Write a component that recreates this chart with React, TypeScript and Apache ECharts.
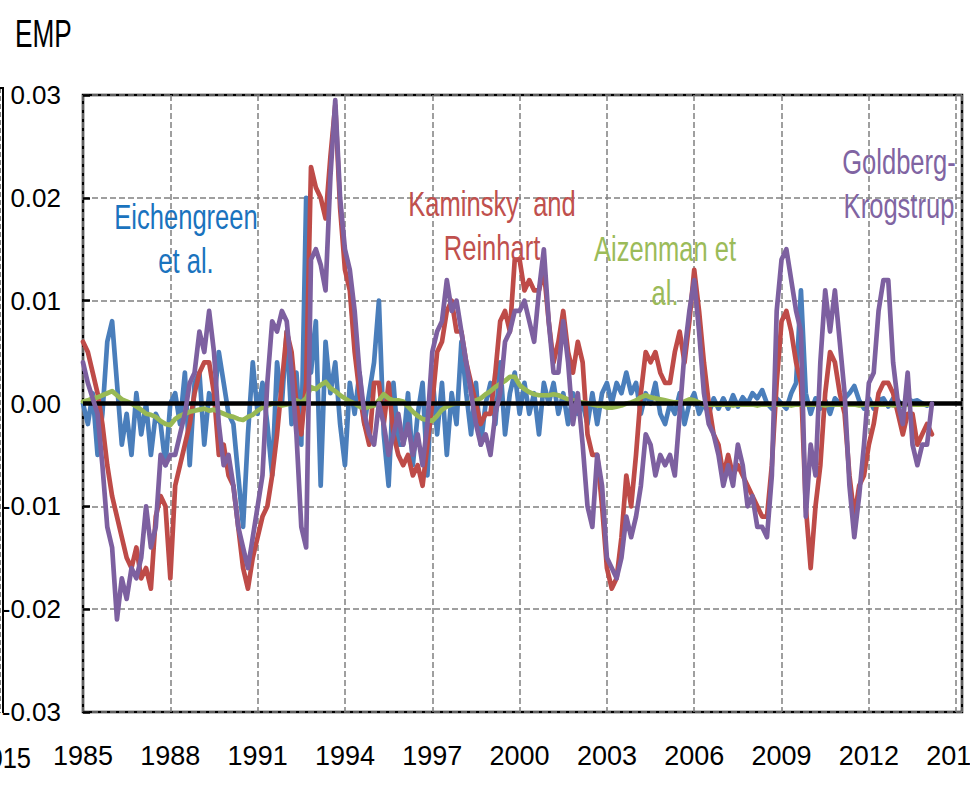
import React, { useEffect, useRef } from "react";
import * as echarts from "echarts";

// Observations are two-monthly, starting January 1985 (x = years since 1985)
const FIRST_YEAR = 1985;
const PERIODS_PER_YEAR = 6;
const yearTicks = [1985, 1988, 1991, 1994, 1997, 2000, 2003, 2006, 2009, 2012, 2015];

// Values in thousandths (0.001) of EMP
const eichengreenThousandths = [
  0, -2, 1, -5, -1, 6,
  8, 2, -4, -1, -5, 1,
  -3, 0, -5, -1, -2, -6,
  0, 1, -2, 3, -6, 2,
  3, -4, 1, 0, 5, 2,
  -1, -2, -7, -12, -3, 4,
  -1, 2, -2, -7, 4, 0,
  7, -2, 3, -4, 20, 3,
  8, -8, 6, 1, 4, -2,
  -6, 2, -1, 3, -2, 1,
  4, 10, -3, -8, 2, -4,
  -4, 1, -6, -1, 2, -7,
  3, -3, 2, -5, 1, -2,
  6, 1, -3, 2, -4, 0,
  2, -2, 4, -3, 1, 3,
  -1, 2, -1, 1, -3, 2,
  0, 2, -1, 1, -2, 1,
  -1, 0, -2, 1, -2, 1,
  2, 0, 2, 1, 3, 1,
  2, -1, 1, 0, 2, -1,
  -2, 0, -1, 1, -2, 0,
  1, -1, 0, -1, 0.5, -0.5,
  0.5, -0.5, 0.8, -0.3, 0.6, 0,
  1, 0.5, 1.3, 0, -0.5, 0.5,
  0, -0.5, 1, 2, 11, 1,
  -1, 0.5, -0.5, 0.3, -1, 0.5,
  0, 0.5, 1, 1.7, 0.3, -0.5,
  0.5, -0.5, 0.3, 0.5, -0.3, 0.5,
  0.3, -0.3, 0.5, 0.2, 0.3, 0,
  -0.2, 0,
];

const kaminskyReinhartThousandths = [
  6, 5, 3, 1, -2, -6,
  -9, -11, -13, -15, -16, -14,
  -17, -16, -18, -11, -9, -10,
  -17, -8, -6, -4, -2, 1,
  3, 4, 4, 1, -5, -4,
  -7, -8, -12, -16, -18, -15,
  -13, -11, -10, -7, -3, 2,
  7, 5, 0, -3, 2, 23,
  21, 20, 18, 24, 29, 19,
  13, 11, 5, 1, -2, -4,
  2, 2, -2, 2, -3, -5,
  -6, -5, -7, -6, -8, -4,
  0, 5, 6, 9, 10, 7,
  7, 4, 2, 0, -2, -1,
  -1, 3, 8, 9, 7, 14,
  14, 11, 12, 11, 11, 13,
  8, 4, 6, 9, 5, 3,
  6, 4, -3, -5, -5, -10,
  -16, -18, -17, -13, -7, -10,
  -5, 1, 5, 4, 5, 3,
  2, 2, 5, 7, 4, 8,
  13, 9, 4, 0, -3, -4,
  -7, -5, -7, -6, -7, -8,
  -9, -10, -11, -11, -6, 2,
  8, 9, 7, 4, 2, -10,
  -16, -10, -6, 1, 5, 4,
  1, -1, -7, -11, -8, -7,
  -4, -2, 1, 2, 2, 1,
  -1, -3, -1, -1, -4, -3,
  -2, -3,
];

const aizenmanThousandths = [
  0.2, 0.3, 0.5, 0.6, 0.8, 1.0,
  1.2, 0.8, 0.4, 0.2, 0.0, -0.3,
  -0.6, -1.0, -1.1, -1.3, -1.7, -2.0,
  -2.1, -1.5, -1.2, -1.0, -0.8, -0.7,
  -0.6, -0.5, -0.7, -0.6, -0.8, -1.0,
  -1.2, -1.3, -1.5, -1.6, -1.3, -1.1,
  -0.7, -0.4, -0.2, 0.0, 0.0, -0.2,
  -0.1, 0.0, 0.3, 0.1, 0.5, 1.6,
  1.4, 1.8, 2.1, 1.5, 1.2, 0.8,
  0.5, 0.2, 0.0, -0.3, -0.5, -0.3,
  -0.2, 0.3, 0.9, 0.5, 0.3, 0.3,
  0.2, -0.3, -0.8, -1.2, -1.5, -1.6,
  -1.7, -1.2, -0.6, -0.3, -0.1, 0.0,
  0.0, 0.0, 0.1, 0.3, 0.5, 0.9,
  1.2, 1.6, 1.9, 2.2, 2.6, 2.6,
  1.8, 1.4, 1.1, 0.9, 0.8, 0.8,
  0.8, 0.9, 0.8, 0.6, 0.4, 0.3,
  0.2, 0.1, 0.0, -0.1, -0.2, -0.2,
  -0.4, -0.4, -0.3, -0.2, 0.0, 0.1,
  0.3, 0.6, 0.8, 0.6, 0.5, 0.4,
  0.3, 0.2, 0.1, 0.1, 0.2, 0.4,
  0.3, 0.1, -0.1, -0.1, -0.1, -0.1,
  -0.1, -0.1, -0.2, -0.1, -0.1, -0.1,
  -0.1, -0.2, -0.1, -0.1, -0.1, -0.1,
  -0.1, -0.1, -0.2, -0.1, -0.1, -0.1,
  -0.1, -0.1, -0.1, -0.2, -0.1, -0.1,
  -0.1, -0.1, -0.1, -0.1, -0.2, -0.1,
  -0.1, -0.1, -0.1, -0.1, -0.1, -0.2,
  -0.1, -0.1, -0.1, -0.1, -0.1, -0.1,
  -0.1, -0.1,
];

const goldbergKrogstrupThousandths = [
  4, 2, 0.5, -1, -6, -12,
  -14, -21, -17, -19, -16, -17,
  -15, -10, -14, -12, -5, -6,
  -5, -5, -3, -1, 2, 3,
  7, 5, 9, 5, -2, -6,
  -5, -8, -12, -14, -16, -13,
  -10, -7, 2, 8, 7, 9,
  8, 3, -3, -12, -14, 14,
  15, 13.5, 11, 22, 29.5, 20,
  15, 13, 9, 3, -1, -3,
  -4, 0, -2, -5, -3, -1,
  -4, -2, -5, -3, -6, -2,
  5, 7, 8, 12, 9, 10,
  7, 4, 1, -2, -4, -3,
  -5, -1, 1, 6, 7, 9,
  9, 10, 8, 6, 11, 15,
  8, 3, 3, 8, 4, -2,
  1, -4, -10, -12, -5, -8,
  -15, -16, -17, -15, -11, -13,
  -11, -8, -3, -4, -7, -5,
  -6, -5, -7, -1, 5, 9,
  12, 7, 1, -2, -3, -5,
  -8, -6, -8, -4, -6, -10,
  -9, -12, -12, -13, -7, 9,
  14, 15, 12, 9, 7, -11,
  -4, -7, 4, 11, 7, 11,
  6, 1, -8, -13, -9, -4,
  2, 3, 9, 12, 12, 4,
  0, -2, 3, -4, -6, -4,
  -4, 0,
];

const seriesNames = ["Eichengreen et al.", "Kaminsky and Reinhart", "Aizenman et al.", "Goldberg-Krogstrup"];
const annotationTexts = ["Eichengreen\net al.", "Kaminsky  and\nReinhart", "Aizenman et\nal.", "Goldberg-\nKrogstrup"];

const FONT = "'Liberation Sans', Arial, sans-serif";

function toPairs(values: number[]) {
  return values.map((v, i) => [i / PERIODS_PER_YEAR, v / 1000]);
}

export default function App() {
  const ref = useRef<HTMLDivElement>(null);

  useEffect(() => {
    if (!ref.current) return;
    const chart = echarts.init(ref.current, undefined, { renderer: "svg" });

    const colors = ["#4A7EBB", "#BE4B48", "#98B954", "#7D60A0"];
    const dataSets = [
      eichengreenThousandths,
      kaminskyReinhartThousandths,
      aizenmanThousandths,
      goldbergKrogstrupThousandths,
    ];

    const series: any[] = dataSets.map((d, k) => ({
      type: "line",
      name: seriesNames[k],
      data: toPairs(d),
      symbol: "none",
      showSymbol: false,
      smooth: false,
      z: 2 + k,
      lineStyle: { color: colors[k], width: 4.7, join: "round", cap: "round" },
      itemStyle: { color: colors[k] },
      emphasis: { disabled: true },
      markLine:
        k === 0
          ? {
              silent: true,
              symbol: ["none", "none"],
              label: { show: false },
              lineStyle: { color: "#000", width: 4.5, type: "solid" },
              data: [{ yAxis: 0 }],
            }
          : undefined,
    }));

    const annStyle = (k: number, color: string) => ({
      text: annotationTexts[k],
      fill: color,
      fontSize: 36,
      fontFamily: FONT,
      textAlign: "center",
      textVerticalAlign: "top",
      lineHeight: 44,
    });

    chart.setOption({
      animation: false,
      backgroundColor: "#fff",
      grid: {
        left: 83,
        right: 8,
        top: 95,
        bottom: 75,
        outerBoundsMode: "none",
        containLabel: false,
        show: true,
        borderColor: "#000",
        borderWidth: 2.5,
        backgroundColor: "transparent",
      },
      xAxis: {
        type: "value",
        min: 0,
        max: 30.2,
        interval: 3,
        axisLine: { show: false, onZero: false },
        axisTick: { show: false },
        splitLine: {
          show: true,
          lineStyle: { color: "#808080", width: 1.5, type: [6, 3] },
        },
        axisLabel: {
          color: "#000",
          fontSize: 27,
          fontFamily: FONT,
          margin: 30,
          formatter: (v: number) => {
            const yr = FIRST_YEAR + Math.round(v);
            return Math.abs(v - Math.round(v)) < 1e-6 && yearTicks.includes(yr) ? String(yr) : "";
          },
        },
      },
      yAxis: {
        type: "value",
        min: -0.03,
        max: 0.03,
        interval: 0.01,
        axisLine: { show: false },
        axisTick: { show: true, inside: true, length: 7, lineStyle: { color: "#000", width: 2.5 } },
        splitLine: {
          show: true,
          lineStyle: { color: "#808080", width: 1.5, type: [6, 3] },
        },
        axisLabel: {
          color: "#000",
          fontSize: 26,
          fontFamily: FONT,
          margin: 22,
          formatter: (v: number) => (Math.abs(v) < 1e-9 ? "0.00" : v.toFixed(2)),
        },
      },
      series,
      graphic: [
        // fragment of the neighbouring panel at the left edge
        { type: "line", shape: { x1: 3, y1: 88, x2: 3, y2: 713 }, style: { stroke: "#000", lineWidth: 2 }, z: 1 },
        { type: "line", shape: { x1: 0.5, y1: 88, x2: 0.5, y2: 713 }, style: { stroke: "#808080", lineWidth: 1, lineDash: [5, 3] }, z: 1 },
        { type: "line", shape: { x1: 0, y1: 88, x2: 4, y2: 88 }, style: { stroke: "#000", lineWidth: 2 }, z: 1 },
        {
          type: "text",
          x: 31,
          y: 743,
          scaleX: 0.85,
          style: { text: "2015", fill: "#000", fontSize: 30, fontFamily: FONT, textAlign: "right", textVerticalAlign: "top" },
        },
        {
          type: "text",
          x: 15,
          y: 15,
          scaleX: 0.69,
          style: { text: "EMP", fill: "#000", fontSize: 38, fontFamily: FONT, textAlign: "left", textVerticalAlign: "top" },
        },
        { type: "text", x: 186, y: 195, scaleX: 0.71, style: annStyle(0, "#1A73BE"), z: 20 },
        { type: "text", x: 492, y: 182, scaleX: 0.71, style: annStyle(1, "#C0504D"), z: 20 },
        { type: "text", x: 665, y: 227, scaleX: 0.71, style: annStyle(2, "#9BBB59"), z: 20 },
        { type: "text", x: 899, y: 140, scaleX: 0.71, style: annStyle(3, "#8064A2"), z: 20 },
      ],
    });

    return () => chart.dispose();
  }, []);

  return (
    <div
      ref={ref}
      style={{ position: "absolute", left: 0, top: 0, width: 970, height: 787 }}
    />
  );
}
